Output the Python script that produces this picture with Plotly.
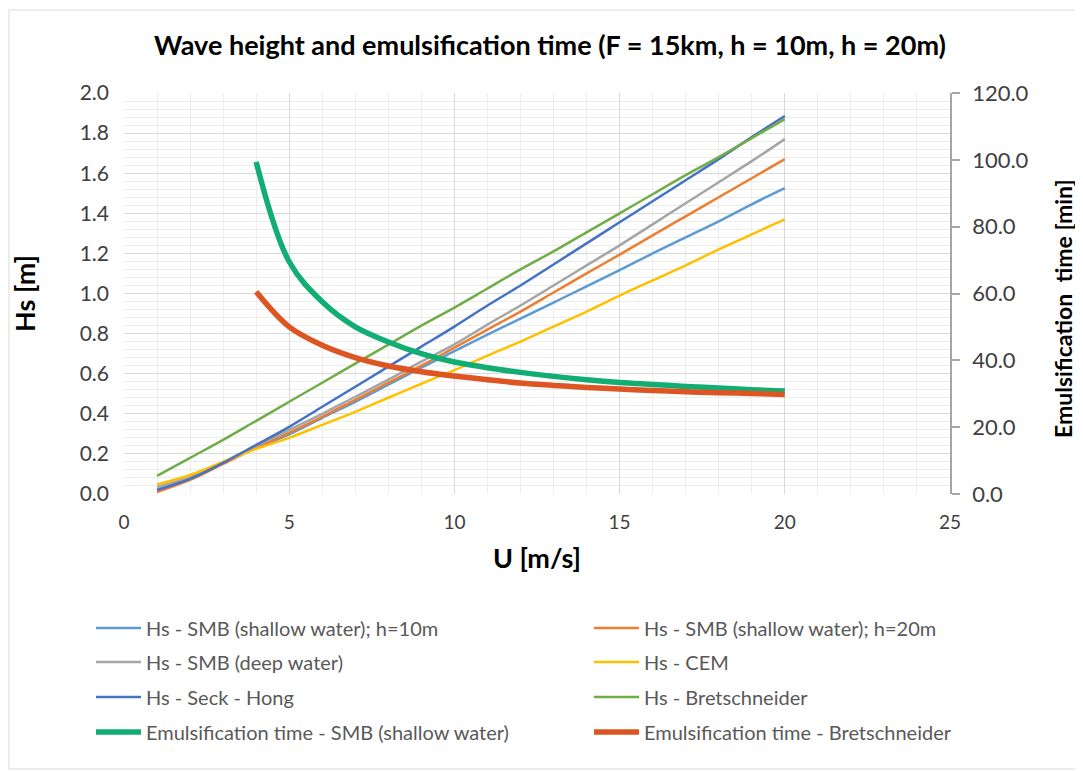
import plotly.graph_objects as go

U = [1, 2, 3, 4, 5, 6, 7, 8, 9, 10, 11, 12, 13, 14, 15, 16, 17, 18, 19, 20]
hs_smb_h10 = [0.02, 0.075, 0.155, 0.23, 0.298, 0.38, 0.46, 0.545, 0.63, 0.713,
              0.795, 0.875, 0.955, 1.035, 1.116, 1.2, 1.28, 1.36, 1.445, 1.525]
hs_smb_h20 = [0.01, 0.07, 0.15, 0.23, 0.306, 0.385, 0.47, 0.555, 0.64, 0.73,
              0.82, 0.91, 1.005, 1.10, 1.194, 1.29, 1.385, 1.48, 1.575, 1.67]
hs_smb_deep = [0.035, 0.085, 0.16, 0.24, 0.32, 0.40, 0.485, 0.57, 0.66, 0.746,
               0.845, 0.94, 1.04, 1.14, 1.24, 1.345, 1.45, 1.555, 1.66, 1.77]
hs_cem = [0.048, 0.095, 0.16, 0.225, 0.28, 0.345, 0.41, 0.48, 0.55, 0.618,
          0.69, 0.76, 0.835, 0.91, 0.99, 1.065, 1.14, 1.22, 1.295, 1.37]
hs_seck_hong = [0.02, 0.075, 0.155, 0.245, 0.335, 0.435, 0.535, 0.635, 0.735, 0.835,
                0.94, 1.04, 1.145, 1.25, 1.355, 1.46, 1.565, 1.67, 1.78, 1.885]
hs_bretschneider = [0.09, 0.18, 0.27, 0.365, 0.46, 0.555, 0.65, 0.745, 0.84, 0.93,
                    1.025, 1.12, 1.21, 1.305, 1.40, 1.495, 1.59, 1.68, 1.775, 1.87]

U_emul = [4, 5, 6, 7, 8, 9, 10, 11, 12, 13, 14, 15, 16, 17, 18, 19, 20]
emul_smb = [99.4, 69.5, 57.5, 50.0, 45.5, 42.0, 39.5, 37.8,
            36.4, 35.2, 34.2, 33.4, 32.8, 32.2, 31.7, 31.2, 30.8]
emul_bret = [60.5, 50.0, 44.5, 40.8, 38.3, 36.6, 35.3, 34.2,
             33.2, 32.5, 31.9, 31.4, 31.0, 30.6, 30.3, 30.1, 29.8]

names = [
    "Hs - SMB (shallow water); h=10m",
    "Hs - SMB (shallow water); h=20m",
    "Hs - SMB (deep water)",
    "Hs - CEM",
    "Hs - Seck - Hong",
    "Hs - Bretschneider",
    "Emulsification time - SMB (shallow water)",
    "Emulsification time - Bretschneider",
]
colors = ["#5B9BD5", "#ED7D31", "#A5A5A5", "#FFC000", "#4472C4", "#70AD47", "#12AD73", "#DD5522"]

FONT = "Lato"
OFF = 8  # page body margin
W, H = 1083 - OFF, 771 - OFF
L, T = 124 - OFF, 93 - OFF
R, B = 133, 277
pw, ph = W - L - R, H - T - B


def px_x(sx):
    return (sx - OFF - L) / pw


def px_y(sy):
    return (T + ph - (sy - OFF)) / ph


fig = go.Figure()
hs_series = [hs_smb_h10, hs_smb_h20, hs_smb_deep, hs_cem, hs_seck_hong, hs_bretschneider]
legend_ids = ["legend", "legend2", "legend3", "legend4", "legend5", "legend6", "legend7", "legend8"]
for i, ys in enumerate(hs_series):
    fig.add_trace(go.Scatter(x=U, y=ys, mode="lines", name=names[i], showlegend=True,
                             line=dict(color=colors[i], width=2.5, shape="spline"),
                             legend=legend_ids[i]))
for j, ys in enumerate([emul_smb, emul_bret]):
    k = 6 + j
    fig.add_trace(go.Scatter(x=U_emul, y=ys, mode="lines", name=names[k], yaxis="y2",
                             showlegend=True,
                             line=dict(color=colors[k], width=5.5, shape="spline"),
                             legend=legend_ids[k]))

# legend placements (two columns, four rows), screen pixel positions
row_px = [628, 662, 697, 732]
col_px = [91, 589]
leg_layout = {}
for idx, lid in enumerate(legend_ids):
    r, c = idx // 2, idx % 2
    leg_layout[lid] = dict(
        x=px_x(col_px[c]), y=px_y(row_px[r]),
        xanchor="left", yanchor="middle", bgcolor="rgba(0,0,0,0)",
        font=dict(family=FONT, size=20, color="#595959"), itemwidth=45,
        visible=True,
    )

fig.update_layout(
    width=W, height=H, showlegend=True,
    margin=dict(l=L, r=R, t=T, b=B, autoexpand=False),
    paper_bgcolor="white", plot_bgcolor="white",
    title=dict(text="<b>Wave height and emulsification time (F = 15km, h = 10m, h = 20m)</b>",
               x=(550 - OFF) / W, xanchor="center", y=1 - (46 - OFF) / H, yanchor="middle",
               font=dict(family=FONT, size=27, color="black")),
    xaxis=dict(range=[0, 25], dtick=5, tick0=0, showgrid=True, gridcolor="#D9D9D9", gridwidth=1,
               minor=dict(dtick=1, showgrid=True, gridcolor="#EDEDED", gridwidth=1),
               zeroline=False, showline=False, ticks="", ticklabelstandoff=15,
               tickfont=dict(family=FONT, size=19, color="#404040"),
               title=dict(text="<b>U [m/s]</b>", standoff=17,
                          font=dict(family=FONT, size=27, color="black"))),
    yaxis=dict(range=[0, 2.0], dtick=0.2, tick0=0, tickformat=".1f", showgrid=True,
               gridcolor="#D9D9D9", gridwidth=1,
               minor=dict(dtick=0.04, showgrid=True, gridcolor="#EDEDED", gridwidth=1),
               zeroline=False, showline=False, ticks="", ticklabelstandoff=14,
               tickfont=dict(family=FONT, size=21, color="#404040"),
               title=dict(text="<b>Hs [m]</b>", standoff=36,
                          font=dict(family=FONT, size=27, color="black"))),
    yaxis2=dict(range=[0, 120], dtick=20, tick0=0, tickformat=".1f", overlaying="y", side="right",
                showgrid=False, zeroline=False, showline=True, linecolor="#A6A6A6", linewidth=1.5,
                ticks="outside", ticklen=8, tickcolor="#A6A6A6", tickwidth=1.5,
                ticklabelstandoff=8,
                tickfont=dict(family=FONT, size=22, color="#404040")),
    annotations=[dict(text="<b>Emulsification  time [min]</b>", textangle=-90,
                      xref="paper", yref="paper", x=px_x(1063), y=px_y(309),
                      xanchor="center", yanchor="middle", showarrow=False,
                      font=dict(family=FONT, size=23, color="black"))],
    shapes=[dict(type="rect", xref="paper", yref="paper",
                 x0=px_x(OFF + 1), x1=px_x(1081),
                 y0=px_y(769), y1=px_y(10),
                 line=dict(color="#D9D9D9", width=1), fillcolor="rgba(0,0,0,0)", layer="below")],
    **leg_layout,
)

fig.write_html("out.html")
